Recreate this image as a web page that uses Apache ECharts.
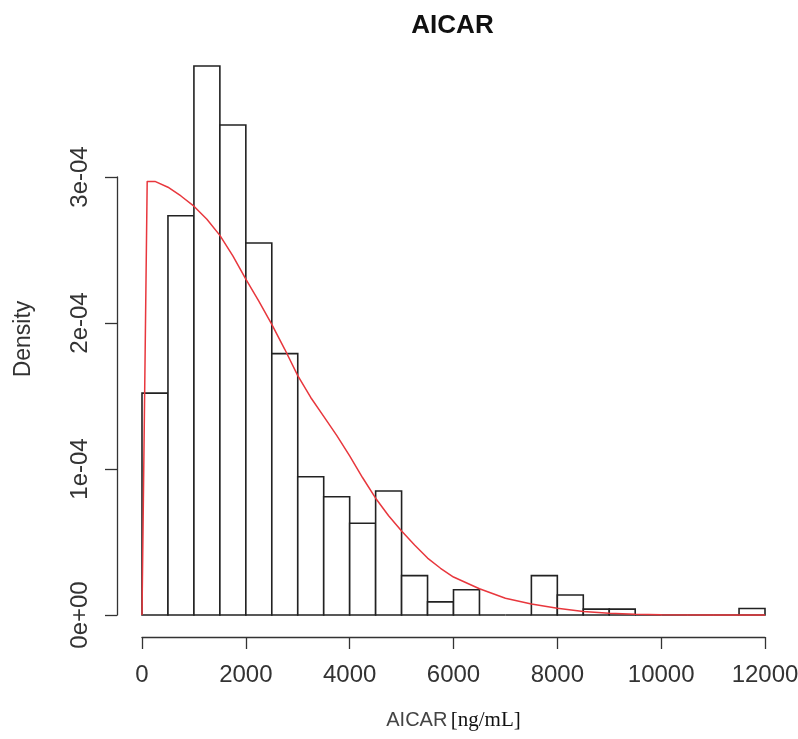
<!DOCTYPE html>
<html>
<head>
<meta charset="utf-8">
<script src="https://cdn.jsdelivr.net/npm/echarts@6/dist/echarts.min.js"></script>
<style>html,body{margin:0;padding:0;background:#fff}#c{width:798px;height:739px}</style>
</head>
<body>
<div id="c"></div>
<script>
// Histogram bins (ng/mL) and densities (in units of 1e-4)
const binStarts = [0,500,1000,1500,2000,2500,3000,3500,4000,4500,5000,5500,6000,6500,7000,7500,8000,8500,9000,9500,10000,10500,11000,11500];
const binWidth = 500;
const densityE4 = [1.52,2.735,3.76,3.356,2.548,1.79,0.947,0.81,0.628,0.849,0.27,0.09,0.173,0,0,0.27,0.137,0.04,0.04,0,0,0,0,0.045];
// Fitted density curve (red), units of 1e-4
const curveX = [0,100,250,500,750,1000,1250,1500,1750,2000,2250,2500,2750,3000,3250,3500,3750,4000,4250,4500,4750,5000,5250,5500,5750,6000,6500,7000,7500,8000,8500,9000,9500,10000,11000,12000];
const curveY = [0,2.97,2.97,2.93,2.87,2.80,2.71,2.60,2.46,2.30,2.15,1.99,1.82,1.64,1.49,1.36,1.23,1.09,0.94,0.80,0.68,0.575,0.48,0.39,0.32,0.26,0.18,0.115,0.075,0.046,0.024,0.012,0.005,0.002,0,0];
const xTicks = [0,2000,4000,6000,8000,10000,12000];
const yTickLabels = ['0e+00','1e-04','2e-04','3e-04'];
const titleText = 'AICAR';
const yName = 'Density';

const W = 798;
const gridLeft = 142, gridRight = 33, gridTop = 177, gridBottom = 124;
const plotCenter = gridLeft + (W - gridLeft - gridRight) / 2;
const chart = echarts.init(document.getElementById('c'));
const axisColor = '#333';
const sans = '"Liberation Sans", Arial, sans-serif';
chart.setOption({
  animation: false,
  backgroundColor: '#fff',
  title: {
    text: titleText,
    left: plotCenter - 6,
    textAlign: 'center',
    top: 8,
    textStyle: { fontFamily: sans, fontSize: 26, fontWeight: 'bold', color: '#111' }
  },
  graphic: [{
    type: 'text',
    x: 24, y: 339,
    rotation: Math.PI / 2,
    style: { text: yName, fontFamily: sans, fontSize: 23, fill: '#333', textAlign: 'center', textVerticalAlign: 'middle' }
  }],
  grid: { left: gridLeft, right: gridRight, top: gridTop, bottom: gridBottom, outerBoundsMode: 'none', containLabel: false },
  xAxis: {
    type: 'value', min: xTicks[0], max: xTicks[xTicks.length - 1], interval: 2000,
    offset: 22,
    axisLine: { show: true, onZero: false, lineStyle: { color: axisColor, width: 1.3 } },
    axisTick: { show: true, length: 12, lineStyle: { color: axisColor, width: 1.3 } },
    splitLine: { show: false },
    axisLabel: { fontFamily: sans, fontSize: 24, color: '#333', margin: 26, showMinLabel: true, showMaxLabel: true,
      formatter: v => String(v) },
    name: '{a|AICAR} {b|[ng/mL]}',
    nameLocation: 'middle',
    nameGap: 73,
    nameMoveOverlap: false,
    nameTextStyle: {
      rich: {
        a: { fontFamily: sans, fontSize: 20, color: '#444' },
        b: { fontFamily: '"Liberation Serif", "Times New Roman", serif', fontSize: 21, color: '#111' }
      }
    }
  },
  yAxis: {
    type: 'value', min: 0, max: 3, interval: 1,
    offset: 25,
    axisLine: { show: true, onZero: false, lineStyle: { color: axisColor, width: 1.3 } },
    axisTick: { show: true, length: 12, lineStyle: { color: axisColor, width: 1.3 } },
    splitLine: { show: false },
    axisLabel: { fontFamily: sans, fontSize: 24, color: '#333', rotate: 90, margin: 25,
      formatter: (v, i) => yTickLabels[i] }
  },
  series: [
    {
      type: 'custom',
      clip: false,
      encode: { x: [0, 1], y: 2 },
      data: binStarts.map((s, i) => [s, s + binWidth, densityE4[i]]),
      renderItem: (params, api) => {
        const p0 = api.coord([api.value(0), api.value(2)]);
        const p1 = api.coord([api.value(1), 0]);
        return {
          type: 'rect',
          shape: { x: p0[0], y: p0[1], width: p1[0] - p0[0], height: p1[1] - p0[1] },
          style: { fill: '#fff', stroke: '#222', lineWidth: 1.6 }
        };
      }
    },
    {
      type: 'line',
      clip: false,
      showSymbol: false,
      symbol: 'none',
      smooth: false,
      data: curveX.map((x, i) => [x, curveY[i]]),
      lineStyle: { color: '#e8373d', width: 1.5 },
      z: 5
    }
  ]
});
</script>
</body>
</html>
